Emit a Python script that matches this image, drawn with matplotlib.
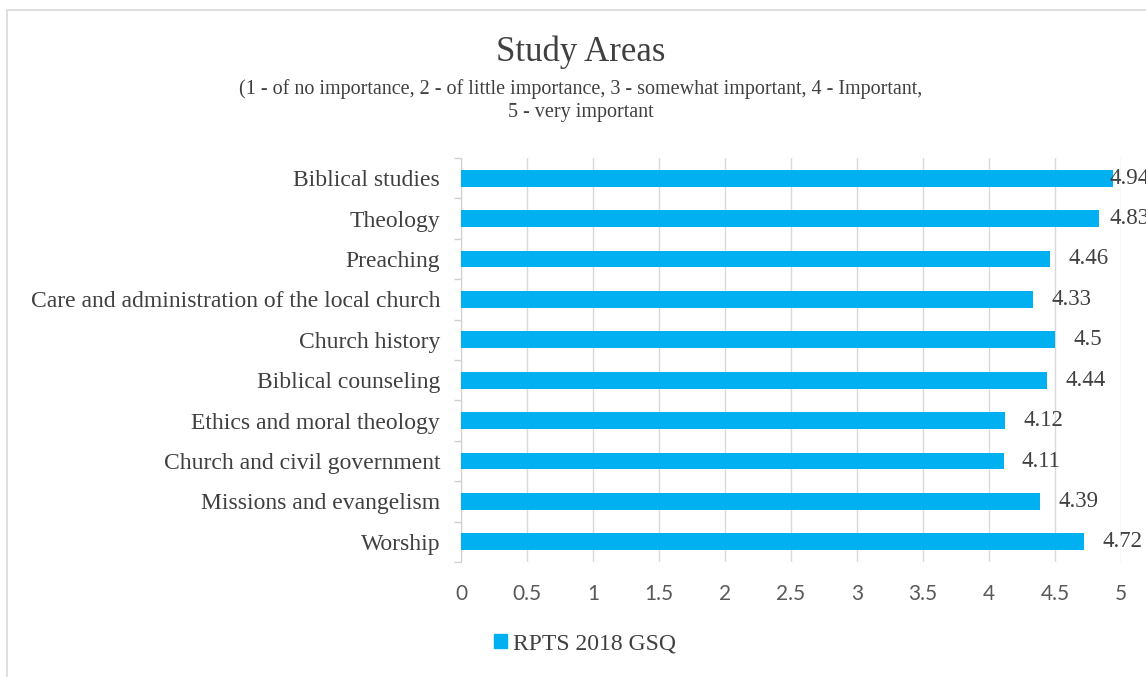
import matplotlib.pyplot as plt
from matplotlib.patches import Rectangle, Patch

# Data
categories = ['Biblical studies', 'Theology', 'Preaching',
              'Care and administration of the local church', 'Church history',
              'Biblical counseling', 'Ethics and moral theology',
              'Church and civil government', 'Missions and evangelism', 'Worship']
scores = [4.94, 4.83, 4.46, 4.33, 4.5, 4.44, 4.12, 4.11, 4.39, 4.72]
x_ticks = [0, 0.5, 1, 1.5, 2, 2.5, 3, 3.5, 4, 4.5, 5]
series_name = 'RPTS 2018 GSQ'

W, H = 1146, 677
fig = plt.figure(figsize=(W / 100, H / 100), dpi=100)

serif = ['Liberation Serif', 'DejaVu Serif']
sans = ['Lato', 'Open Sans', 'DejaVu Sans']
bar_color = '#00B0F0'
text_color = '#404040'

# chart frame (behind everything)
fig.patches.append(Rectangle((7 / W, -0.1), 1.2, 1.1 - 10 / H, transform=fig.transFigure,
                             facecolor='white', edgecolor='#d9d9d9', linewidth=1.2,
                             zorder=-5))

ax = fig.add_axes([461 / W, 1 - 562 / H, (1121 - 461) / W, (562 - 158) / H])
ax.patch.set_alpha(0)
ypos = list(range(len(categories)))
ax.barh(ypos, scores, height=0.42, color=bar_color, zorder=3)
ax.set_ylim(len(categories) - 0.5, -0.5)
ax.set_xlim(0, 5)

ax.set_yticks(ypos)
ax.set_yticklabels(categories, fontfamily=serif, fontsize=17, color=text_color)
ax.set_yticks([i - 0.5 for i in range(len(categories) + 1)], minor=True)
ax.tick_params(axis='y', which='major', length=0, pad=15)
ax.tick_params(axis='y', which='minor', length=5, color='#d0d0d0', width=1)

ax.set_xticks(x_ticks)
ax.set_xticklabels([('%g' % t) for t in x_ticks], fontfamily=sans, fontsize=15, color='#595959')
ax.tick_params(axis='x', length=0, pad=16)
ax.grid(axis='x', color='#d9d9d9', linewidth=1, zorder=0)

for s in ['top', 'right', 'bottom']:
    ax.spines[s].set_visible(False)
ax.spines['left'].set_color('#d0d0d0')

# value labels; like Excel, keep them inside the chart area at the right edge
for y, v in zip(ypos, scores):
    if v + 0.14 > 4.9:
        ax.text(5.22, y, '%g' % v, va='center', ha='right', fontfamily=serif,
                fontsize=16.5, color=text_color, clip_on=False, zorder=4)
    else:
        ax.text(v + 0.14, y, '%g' % v, va='center', ha='left', fontfamily=serif,
                fontsize=16.5, color=text_color, clip_on=False)

fig.text(581 / W, 1 - 52 / H, 'Study Areas', ha='center', va='center',
         fontfamily=serif, fontsize=25, color=text_color)
fig.text(581 / W, 1 - 89 / H,
         '(1 - of no importance, 2 - of little importance, 3 - somewhat important, 4 - Important,',
         ha='center', va='center', fontfamily=serif, fontsize=14.5, color=text_color)
fig.text(581 / W, 1 - 113 / H, '5 - very important', ha='center', va='center',
         fontfamily=serif, fontsize=14.5, color=text_color)

fig.legend(handles=[Patch(color=bar_color, label=series_name)],
           loc='center', bbox_to_anchor=(585 / W, 1 - 644 / H), frameon=False,
           prop={'family': serif, 'size': 17}, handlelength=0.55, handleheight=0.55,
           handletextpad=0.25, labelcolor=text_color)

fig.savefig('out.png', dpi=100)
